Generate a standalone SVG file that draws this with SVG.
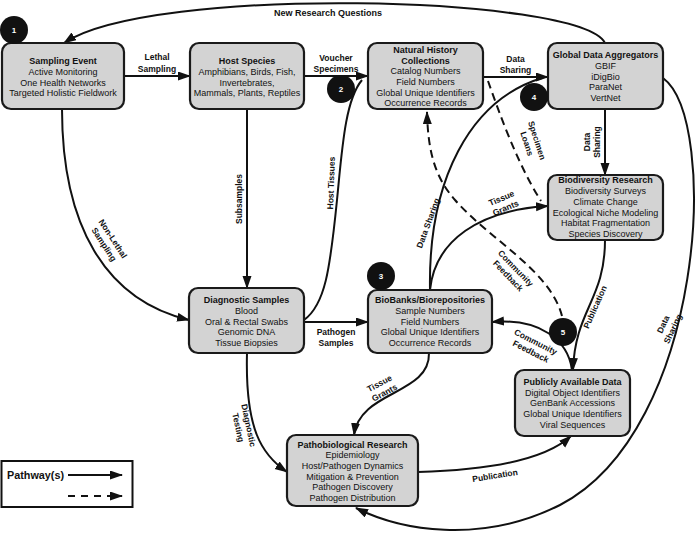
<svg xmlns="http://www.w3.org/2000/svg" width="696" height="536" viewBox="0 0 696 536">
<defs>
<marker id="ah" markerUnits="userSpaceOnUse" markerWidth="13" markerHeight="10" refX="12" refY="4.5" orient="auto">
<path d="M0,0 L13,4.5 L0,9 z" fill="#111"/>
</marker>
<style>
.box{fill:#d3d3d3;stroke:#1a1a1a;stroke-width:2.2}
.t{font-family:"Liberation Sans",Arial,sans-serif;font-size:9px;text-anchor:middle;fill:#111}
.b{font-weight:bold}
.l{font-family:"Liberation Sans",Arial,sans-serif;font-size:8.5px;font-weight:bold;text-anchor:middle;fill:#111}
.c{fill:none;stroke:#111;stroke-width:2}
.d{stroke-dasharray:8 5}
.bd{fill:#111}
.bn{font-family:"Liberation Sans",Arial,sans-serif;font-size:8px;font-weight:bold;text-anchor:middle;fill:#fff}
</style>
</defs>
<rect width="696" height="536" fill="#fff"/>

<g id="connectors">
<path class="c" d="M605,43 C580,-5 150,-15 64,43" marker-end="url(#ah)"/>
<path class="c" d="M124,76 L190,76" marker-end="url(#ah)"/>
<path class="c" d="M304,76 L368,76" marker-end="url(#ah)"/>
<path class="c" d="M483,77 L548,77" marker-end="url(#ah)"/>
<path class="c" d="M605,109 L605,175" marker-end="url(#ah)"/>
<path class="c" d="M247,109 L247,288" marker-end="url(#ah)"/>
<path class="c" d="M62,109 C62,225 105,300 189,320" marker-end="url(#ah)"/>
<path class="c" d="M304,320 C325,305 330,270 337,200 C342,150 345,100 362,80"/>
<path class="c" d="M304,322 L368,322" marker-end="url(#ah)"/>
<path class="c" d="M430,290 C428,180 470,100 542,78"/>
<path class="c" d="M430,290 C435,240 480,210 548,206" marker-end="url(#ah)"/>
<path class="c d" d="M488,81 C500,115 518,165 541,201"/>
<path class="c d" d="M562,316 C550,270 490,240 455,200 C434,176 428,150 427,112" marker-end="url(#ah)"/>
<path class="c" d="M572,370 C568,340 540,318 492,322" marker-end="url(#ah)"/>
<path class="c" d="M605,240 C605,300 575,310 573,370" marker-end="url(#ah)"/>
<path class="c" d="M663,78 C720,120 705,430 560,505 C480,545 400,530 356,508" marker-end="url(#ah)"/>
<path class="c" d="M247,353 C245,430 262,455 287,472" marker-end="url(#ah)"/>
<path class="c" d="M429,353 C430,395 360,390 354,435" marker-end="url(#ah)"/>
<path class="c" d="M418,472 C490,470 545,460 571,436" marker-end="url(#ah)"/>
</g>

<g id="labels">
<text class="l" x="328" y="16" style="font-size:9px">New Research Questions</text>
<text class="l"><tspan x="157" y="60">Lethal</tspan><tspan x="157" y="71.5">Sampling</tspan></text>
<text class="l"><tspan x="336" y="60.5">Voucher</tspan><tspan x="336" y="71.5">Specimens</tspan></text>
<text class="l"><tspan x="515.5" y="62">Data</tspan><tspan x="515.5" y="73">Sharing</tspan></text>
<text class="l" transform="translate(592,142) rotate(-90)"><tspan x="0" y="-2.3">Data</tspan><tspan x="0" y="8.3">Sharing</tspan></text>
<text class="l" transform="translate(238.5,199) rotate(-90)" y="3">Subsamples</text>
<text class="l" transform="translate(108.5,241.5) rotate(57)"><tspan x="0" y="-2.3">Non-Lethal</tspan><tspan x="0" y="8.3">Sampling</tspan></text>
<text class="l" transform="translate(331,183) rotate(-88)" y="3">Host Tissues</text>
<text class="l"><tspan x="336" y="334.5">Pathogen</tspan><tspan x="336" y="345.5">Samples</tspan></text>
<text class="l" transform="translate(428,223) rotate(-70)" y="3">Data Sharing</text>
<text class="l" transform="translate(503.5,203) rotate(-23)"><tspan x="0" y="-2.3">Tissue</tspan><tspan x="0" y="8.3">Grants</tspan></text>
<text class="l" transform="translate(532,142) rotate(72)"><tspan x="0" y="-2.3">Specimen</tspan><tspan x="0" y="8.3">Loans</tspan></text>
<text class="l" transform="translate(512,272) rotate(46)"><tspan x="0" y="-2.3">Community</tspan><tspan x="0" y="8.3">Feedback</tspan></text>
<text class="l" transform="translate(533.3,346.7) rotate(27)"><tspan x="0" y="-2.3">Community</tspan><tspan x="0" y="8.3">Feedback</tspan></text>
<text class="l" transform="translate(595,307) rotate(-66)" y="3">Publication</text>
<text class="l" transform="translate(668,326.5) rotate(-65)"><tspan x="0" y="-2.3">Data</tspan><tspan x="0" y="8.3">Sharing</tspan></text>
<text class="l" transform="translate(243.5,426.5) rotate(78)"><tspan x="0" y="-2.3">Diagnostic</tspan><tspan x="0" y="8.3">Testing</tspan></text>
<text class="l" transform="translate(382,388) rotate(-28)"><tspan x="0" y="-2.3">Tissue</tspan><tspan x="0" y="8.3">Grants</tspan></text>
<text class="l" transform="translate(495,475.5) rotate(-9)" y="3">Publication</text>
</g>

<g id="sampling-event">
<rect class="box" x="2" y="43" width="122" height="66" rx="9"/>
<text class="t"><tspan class="b" x="63" y="64.3">Sampling Event</tspan><tspan x="63" y="75">Active Monitoring</tspan><tspan x="63" y="85.6">One Health Networks</tspan><tspan x="63" y="96.2">Targeted Holistic Fieldwork</tspan></text>
</g>
<g id="host-species">
<rect class="box" x="190" y="43" width="114" height="66" rx="9"/>
<text class="t"><tspan class="b" x="247" y="64.3">Host Species</tspan><tspan x="247" y="75">Amphibians, Birds, Fish,</tspan><tspan x="247" y="85.6">Invertebrates,</tspan><tspan x="247" y="96.2">Mammals, Plants, Reptiles</tspan></text>
</g>
<g id="natural-history">
<rect class="box" x="368" y="43" width="115" height="66" rx="9"/>
<text class="t"><tspan class="b" x="425.5" y="53.2">Natural History</tspan><tspan class="b" x="425.5" y="63.8">Collections</tspan><tspan x="425.5" y="74.4">Catalog Numbers</tspan><tspan x="425.5" y="85">Field Numbers</tspan><tspan x="425.5" y="95.6">Global Unique Identifiers</tspan><tspan x="425.5" y="106.2">Occurrence Records</tspan></text>
</g>
<g id="global-data">
<rect class="box" x="548" y="43" width="115" height="66" rx="9"/>
<text class="t"><tspan class="b" x="605.5" y="58.2">Global Data Aggregators</tspan><tspan x="605.5" y="68.9">GBIF</tspan><tspan x="605.5" y="79.6">iDigBio</tspan><tspan x="605.5" y="90.3">ParaNet</tspan><tspan x="605.5" y="101">VertNet</tspan></text>
</g>
<g id="biodiversity">
<rect class="box" x="548" y="175" width="115" height="65" rx="9"/>
<text class="t"><tspan class="b" x="605.5" y="183.4">Biodiversity Research</tspan><tspan x="605.5" y="194.1">Biodiversity Surveys</tspan><tspan x="605.5" y="204.8">Climate Change</tspan><tspan x="605.5" y="215.5">Ecological Niche Modeling</tspan><tspan x="605.5" y="226.2">Habitat Fragmentation</tspan><tspan x="605.5" y="236.9">Species Discovery</tspan></text>
</g>
<g id="diagnostic">
<rect class="box" x="189" y="288" width="115" height="65" rx="9"/>
<text class="t"><tspan class="b" x="246.5" y="303.2">Diagnostic Samples</tspan><tspan x="246.5" y="313.9">Blood</tspan><tspan x="246.5" y="324.6">Oral &amp; Rectal Swabs</tspan><tspan x="246.5" y="335.3">Genomic DNA</tspan><tspan x="246.5" y="346">Tissue Biopsies</tspan></text>
</g>
<g id="biobanks">
<rect class="box" x="368" y="290" width="124" height="63" rx="9"/>
<text class="t"><tspan class="b" x="430" y="303.2">BioBanks/Biorepositories</tspan><tspan x="430" y="313.9">Sample Numbers</tspan><tspan x="430" y="324.6">Field Numbers</tspan><tspan x="430" y="335.3">Global Unique Identifiers</tspan><tspan x="430" y="346">Occurrence Records</tspan></text>
</g>
<g id="public-data">
<rect class="box" x="515" y="370" width="115" height="66" rx="9"/>
<text class="t"><tspan class="b" x="572.5" y="384.9">Publicly Available Data</tspan><tspan x="572.5" y="395.6">Digital Object Identifiers</tspan><tspan x="572.5" y="406.3">GenBank Accessions</tspan><tspan x="572.5" y="417">Global Unique Identifiers</tspan><tspan x="572.5" y="427.7">Viral Sequences</tspan></text>
</g>
<g id="pathobiological">
<rect class="box" x="287" y="435" width="131" height="71" rx="9"/>
<text class="t"><tspan class="b" x="352.5" y="447.5">Pathobiological Research</tspan><tspan x="352.5" y="458.2">Epidemiology</tspan><tspan x="352.5" y="468.9">Host/Pathogen Dynamics</tspan><tspan x="352.5" y="479.6">Mitigation &amp; Prevention</tspan><tspan x="352.5" y="490.3">Pathogen Discovery</tspan><tspan x="352.5" y="501">Pathogen Distribution</tspan></text>
</g>

<g id="badges">
<g id="badge-1"><circle class="bd" cx="14" cy="30" r="14"/><text class="bn" x="14" y="33">1</text></g>
<g id="badge-2"><circle class="bd" cx="341" cy="89" r="14"/><text class="bn" x="341" y="92">2</text></g>
<g id="badge-3"><circle class="bd" cx="381" cy="276" r="14"/><text class="bn" x="381" y="279">3</text></g>
<g id="badge-4"><circle class="bd" cx="534" cy="97" r="14"/><text class="bn" x="534" y="100">4</text></g>
<g id="badge-5"><circle class="bd" cx="563" cy="332" r="14"/><text class="bn" x="563" y="335">5</text></g>
</g>

<g id="legend">
<rect x="1.5" y="461" width="131" height="46" fill="#fff" stroke="#111" stroke-width="2"/>
<text x="7" y="479" style="font-family:'Liberation Sans',Arial,sans-serif;font-size:10.8px;font-weight:bold;fill:#111">Pathway(s)</text>
<path class="c" d="M68,475 L122,475" marker-end="url(#ah)"/>
<path class="c" d="M68,496 L122,496" style="stroke-dasharray:7 6" marker-end="url(#ah)"/>
</g>
</svg>
